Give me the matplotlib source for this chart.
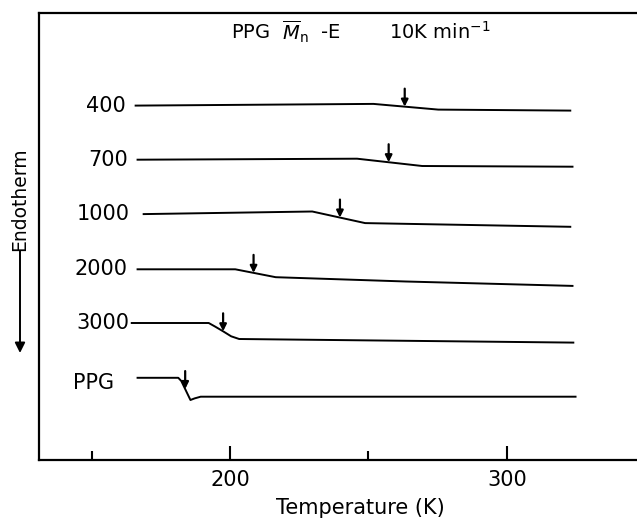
import matplotlib.pyplot as plt
import numpy as np
from matplotlib.ticker import MultipleLocator

# DSC traces, PPG Mn-E series (temperature in K, signal in arbitrary units)
labels = ["400", "700", "1000", "2000", "3000", "PPG"]

temp_400 = [165.9, 251.8, 275.2, 322.9]
sig_400 = [354.4, 356.1, 350.4, 349.4]

temp_700 = [166.6, 245.9, 269.4, 323.7]
sig_700 = [300.3, 301.3, 294.0, 293.3]

temp_1000 = [168.8, 229.7, 248.8, 322.9]
sig_1000 = [245.9, 248.5, 236.9, 233.2]

temp_2000 = [166.6, 201.9, 216.5, 263.5, 323.7]
sig_2000 = [190.7, 190.7, 182.8, 178.5, 174.1]

temp_3000 = [164.5, 192.3, 194.5, 197.5, 200.4, 203.3, 324.0]
sig_3000 = [137.0, 137.0, 133.6, 128.7, 123.7, 121.0, 117.4]

temp_ppg = [166.6, 181.3, 182.4, 185.7, 187.2, 189.4, 324.8]
sig_ppg = [82.2, 82.2, 79.0, 60.0, 61.6, 63.3, 63.3]

# glass transition marks (arrows)
tg = [263.1, 257.3, 239.7, 208.5, 197.5, 183.8]

curves = [(temp_400, sig_400), (temp_700, sig_700), (temp_1000, sig_1000),
          (temp_2000, sig_2000), (temp_3000, sig_3000), (temp_ppg, sig_ppg)]
label_offsets = [(-7, 0), (-7, 0), (-10, 0), (-7, 0), (-2, 0), (-17, -4)]

fig = plt.figure(figsize=(6.37, 5.19), dpi=100)
ax = fig.add_axes([39 / 637, 59 / 519, 1 - 39 / 637, 447.5 / 519])

for (t, s), lab, tt, off in zip(curves, labels, tg, label_offsets):
    ax.plot(t, s, color="black", lw=1.4)
    ax.annotate(lab, xy=(t[0], s[0]), xytext=off, textcoords="offset points",
                ha="right", va="center", fontsize=15)
    tip = np.interp(tt, t, s)
    ax.annotate("", xy=(tt, tip), xytext=(tt, tip + 18),
                arrowprops=dict(arrowstyle="-|>", color="black", lw=1.6,
                                mutation_scale=10, shrinkA=0, shrinkB=0))

ax.set_xlim(131, 347)
ax.set_ylim(0, 447.5)
ax.xaxis.set_major_locator(MultipleLocator(100))
ax.xaxis.set_minor_locator(MultipleLocator(50))
ax.set_yticks([])
ax.tick_params(axis="x", which="major", direction="in", length=10, width=1.5,
               labelsize=15, pad=7)
ax.tick_params(axis="x", which="minor", direction="in", length=6.5, width=1.5)
ax.spines["right"].set_visible(False)
for sp in ["left", "top", "bottom"]:
    ax.spines[sp].set_linewidth(1.6)

ax.set_xlabel("Temperature (K)", fontsize=15)
ax.xaxis.set_label_coords(0.538, -0.085)

fig.text(286 / 637, 1 - 32 / 519, r"PPG  $\overline{M}_{\rm n}$  -E",
         ha="center", va="center", fontsize=14)
fig.text(440 / 637, 1 - 32 / 519, r"10K min$^{-1}$",
         ha="center", va="center", fontsize=14)

# Endotherm direction indicator
fig.text(20 / 637, 1 - 199 / 519, "Endotherm", rotation=90, ha="center",
         va="center", fontsize=13.5)
ax.annotate("", xy=(20, 519 - 353), xytext=(20, 519 - 251),
            xycoords="figure pixels", textcoords="figure pixels",
            arrowprops=dict(arrowstyle="-|>", color="black", lw=1.4,
                            mutation_scale=15, shrinkA=0, shrinkB=0),
            annotation_clip=False)

fig.savefig("out.png", dpi=100)
